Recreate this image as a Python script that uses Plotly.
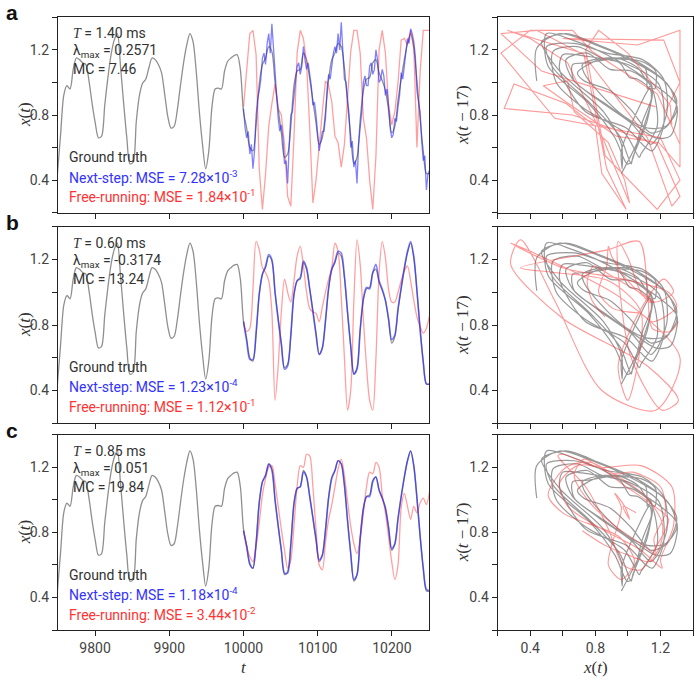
import plotly.graph_objects as go

W, H = 700, 686

# ---------------- sampling ----------------
T0 = 10000.0
DT = 4.25          # 17 / 4  -> the delay of 17 equals 4 samples
LAG = 4

t_gt = [T0 + DT * k for k in range(-59, 60)]
t_pred = [T0 + DT * k for k in range(0, 60)]
t_blue_a = [T0 + DT / 2 * j for j in range(0, 119)]

# ---------------- data ----------------
ground_truth = [
    0.44, 0.68, 0.92, 0.98, 0.96, 1.08, 1.15, 1.14, 1.12, 1.11,
    1.01, 0.87, 0.75, 0.66, 0.67, 0.86, 1.03, 1.17, 1.26, 1.30,
    1.10, 0.87, 0.66, 0.50, 0.51, 0.76, 0.92, 0.995, 1.02, 1.09,
    1.15, 1.14, 1.11, 1.06, 0.93, 0.79, 0.72, 0.73, 0.83, 0.98,
    1.12, 1.23, 1.30, 1.25, 1.07, 0.82, 0.62, 0.47, 0.58, 0.85,
    0.96, 0.965, 0.96, 1.07, 1.13, 1.15, 1.165, 1.17, 1.08,
    0.82, 0.72, 0.60, 0.58, 0.74, 0.99, 1.11, 1.15, 1.22, 1.19,
    1.00, 0.84, 0.69, 0.54, 0.56, 0.73, 0.98, 1.07, 1.08, 1.18,
    1.14, 1.02, 0.89, 0.75, 0.62, 0.66, 0.82, 1.02, 1.14, 1.18,
    1.24, 1.22, 1.09, 0.87, 0.67, 0.50, 0.54, 0.77, 0.95, 1.02,
    1.03, 1.12, 1.14, 1.06, 1.01, 0.95, 0.83, 0.69, 0.73, 0.89,
    1.02, 1.14, 1.24, 1.30, 1.21, 1.01, 0.78, 0.58, 0.44, 0.44,
]

next_step_a = [
    0.84, 0.72, 0.66, 0.70, 0.56, 0.62, 0.47, 0.58, 0.80, 0.90,
    0.95, 1.02, 1.15, 1.18, 1.11, 1.24, 1.30, 1.18, 1.36, 1.22,
    1.05, 0.96, 0.78, 0.70, 0.74, 0.66, 0.50, 0.52, 0.38, 0.62,
    0.80, 0.82, 0.93, 1.00, 1.10, 1.12, 1.05, 1.10, 1.22, 1.14,
    1.08, 1.12, 1.06, 0.98, 0.86, 0.88, 0.80, 0.66, 0.58, 0.64,
    0.70, 0.70, 0.78, 0.96, 1.05, 1.02, 1.10, 1.18, 1.22, 1.18,
    1.30, 1.20, 1.37, 1.20, 1.02, 1.00, 0.90, 0.80, 0.60, 0.64,
    0.48, 0.52, 0.38, 0.62, 0.72, 0.82, 1.00, 1.04, 0.98, 0.98,
    1.10, 1.12, 1.05, 1.08, 1.20, 1.14, 1.00, 1.02, 1.08, 1.04,
    0.92, 0.96, 0.86, 0.72, 0.66, 0.68, 0.78, 0.76, 0.85, 0.92,
    1.06, 1.02, 1.10, 1.17, 1.27, 1.24, 1.33, 1.30, 1.25, 1.16,
    0.95, 0.88, 0.82, 0.64, 0.52, 0.55, 0.34, 0.44, 0.46,
]

free_run_a = [
    0.85, 1.07, 1.30, 1.32, 1.17, 0.47, 0.22, 0.44, 0.73, 0.87,
    0.99, 0.84, 0.80, 0.62, 0.30, 0.24, 0.66, 1.18, 1.32, 1.27,
    1.12, 0.72, 0.26, 0.40, 0.63, 0.82, 1.01, 0.98, 0.88, 0.67,
    0.63, 0.48, 0.62, 0.93, 1.19, 1.32, 1.32, 1.18, 0.78, 0.66,
    0.40, 0.22, 0.55, 1.20, 1.32, 1.18, 0.86, 0.74, 0.82, 1.00,
    1.26, 1.27, 1.23, 1.32, 1.22, 0.60, 1.06, 1.32, 1.32, 1.32,
]

next_step_b = [
    0.82, 0.70, 0.59, 0.59, 0.76, 0.99, 1.11, 1.16, 1.23, 1.20,
    1.00, 0.83, 0.68, 0.53, 0.55, 0.74, 0.99, 1.07, 1.09, 1.19,
    1.15, 1.02, 0.88, 0.74, 0.62, 0.66, 0.83, 1.03, 1.14, 1.19,
    1.25, 1.24, 1.10, 0.88, 0.67, 0.50, 0.53, 0.77, 0.96, 1.03,
    1.02, 1.12, 1.17, 1.07, 1.02, 0.95, 0.84, 0.71, 0.74, 0.90,
    1.03, 1.15, 1.25, 1.31, 1.22, 1.01, 0.77, 0.57, 0.44, 0.44,
]

free_run_b = [
    0.82, 0.76, 0.78, 1.02, 1.31, 1.26, 1.15, 1.12, 1.07, 0.88,
    0.34, 0.55, 0.88, 1.08, 1.00, 0.94, 1.07, 1.22, 1.28, 1.16,
    1.00, 0.90, 0.88, 0.87, 0.82, 0.91, 1.00, 1.08, 1.15, 1.30,
    1.25, 0.97, 0.60, 0.28, 0.40, 0.95, 1.32, 1.17, 0.84, 0.55,
    0.34, 0.28, 0.60, 1.12, 1.31, 1.21, 1.02, 0.94, 0.94, 1.00,
    1.07, 1.13, 1.16, 1.07, 0.95, 0.85, 0.79, 0.75, 0.78, 0.86,
]

next_step_c = [
    0.81, 0.71, 0.61, 0.58, 0.73, 0.98, 1.11, 1.15, 1.22, 1.18,
    1.00, 0.84, 0.69, 0.55, 0.55, 0.72, 0.97, 1.07, 1.08, 1.17,
    1.14, 1.02, 0.89, 0.76, 0.63, 0.66, 0.81, 1.01, 1.13, 1.18,
    1.24, 1.22, 1.09, 0.87, 0.67, 0.51, 0.54, 0.76, 0.94, 1.02,
    1.02, 1.11, 1.14, 1.06, 1.01, 0.95, 0.83, 0.70, 0.73, 0.88,
    1.02, 1.14, 1.24, 1.30, 1.21, 1.01, 0.78, 0.58, 0.45, 0.44,
]

free_run_c = [
    0.81, 0.72, 0.65, 0.62, 0.72, 0.86, 1.03, 1.13, 1.20, 1.21,
    1.10, 0.96, 0.82, 0.69, 0.58, 0.63, 0.84, 1.08, 1.21, 1.20,
    1.28, 1.27, 1.08, 0.82, 0.60, 0.57, 0.74, 0.88, 0.97, 1.08,
    1.19, 1.25, 1.15, 0.99, 0.84, 0.73, 0.67, 0.76, 0.92, 1.08,
    1.17, 1.16, 1.23, 1.20, 1.03, 0.92, 0.77, 0.62, 0.51, 0.60,
    0.95, 1.04, 0.96, 0.88, 0.96, 0.92, 0.98, 1.01, 0.97, 1.05,
]

panel_letters = ["a", "b", "c"]
periods = ["1.40", "0.60", "0.85"]
lambdas = ["0.2571", "-0.3174", "0.051"]
mcs = ["7.46", "13.24", "19.84"]
mse_next = [("7.28", "-3"), ("1.23", "-4"), ("1.18", "-4")]
mse_free = [("1.84", "-1"), ("1.12", "-1"), ("3.44", "-2")]

x_ticks_time = [9800, 9900, 10000, 10100, 10200]
x_ticktext_time = ["9800", "9900", "10000", "10100", "10200"]
val_ticks = [0.2, 0.4, 0.6, 0.8, 1.0, 1.2, 1.4]
val_ticktext = ["", "0.4", "", "0.8", "", "1.2", ""]

# ---------------- styling ----------------
GRAY = "rgba(105,105,105,0.75)"
GRAY_PH = "rgba(85,85,85,0.6)"
BLUE = "rgba(25,25,255,0.55)"
RED = "rgba(255,45,45,0.45)"
RED_PH = "rgba(255,50,50,0.5)"
TXT = "#333333"
BLUE_TXT = "#3333ff"
RED_TXT = "#ff3333"
SERIF = "Liberation Serif"

LEFT_X = [58 / W, 429 / W]
RIGHT_X = [497.7 / W, 693 / W]
ROW_PX = [(17.3, 212.7), (226.7, 423.3), (434.7, 630.0)]

nexts = [next_step_a, next_step_b, next_step_c]
frees = [free_run_a, free_run_b, free_run_c]

fig = go.Figure()
layout = dict(
    width=W, height=H, margin=dict(l=0, r=0, t=0, b=0),
    paper_bgcolor="white", plot_bgcolor="white", showlegend=False,
    font=dict(family="Roboto", size=14, color=TXT),
)

axis_common = dict(
    showline=True, linecolor="#222", linewidth=1.2, mirror=True,
    ticks="outside", ticklen=5, tickwidth=1, tickcolor="#222",
    showgrid=False, zeroline=False,
    tickfont=dict(family="Roboto", size=14, color="#444"),
)

annotations = []


def ann(xp, yp, text, color=TXT, size=14, family="Roboto", xanchor="left", angle=0, bold=False):
    if bold:
        text = "<b>" + text + "</b>"
    annotations.append(dict(
        x=xp / W, y=1 - yp / H, xref="paper", yref="paper", text=text, showarrow=False,
        xanchor=xanchor, yanchor="middle", textangle=angle,
        font=dict(family=family, size=size, color=color),
    ))


for r in range(3):
    top, bot = ROW_PX[r]
    ydom = [1 - bot / H, 1 - top / H]
    il = 2 * r + 1
    ir = 2 * r + 2
    xl = "x" if il == 1 else f"x{il}"
    yl = "y" if il == 1 else f"y{il}"
    xr = f"x{ir}"
    yr = f"y{ir}"
    last = r == 2

    layout["xaxis" if il == 1 else f"xaxis{il}"] = dict(
        axis_common, domain=LEFT_X, anchor=yl, range=[9750, 10250],
        tickvals=x_ticks_time, ticktext=x_ticktext_time, showticklabels=last)
    layout["yaxis" if il == 1 else f"yaxis{il}"] = dict(
        axis_common, domain=ydom, anchor=xl, range=[0.2, 1.4],
        tickvals=val_ticks, ticktext=val_ticktext)
    layout[f"xaxis{ir}"] = dict(
        axis_common, domain=RIGHT_X, anchor=yr, range=[0.2, 1.4],
        tickvals=val_ticks, ticktext=val_ticktext, showticklabels=last)
    layout[f"yaxis{ir}"] = dict(
        axis_common, domain=ydom, anchor=xr, range=[0.2, 1.4],
        tickvals=val_ticks, ticktext=val_ticktext)

    # time series
    fig.add_trace(go.Scatter(x=t_gt, y=ground_truth, mode="lines", xaxis=xl, yaxis=yl,
                             line=dict(color=GRAY, width=1.3, shape="spline", smoothing=0.8)))
    fig.add_trace(go.Scatter(x=t_pred, y=frees[r], mode="lines", xaxis=xl, yaxis=yl,
                             line=dict(color=RED, width=1.3,
                                       shape="linear" if r == 0 else "spline", smoothing=0.8)))
    if r == 0:
        fig.add_trace(go.Scatter(x=t_blue_a, y=next_step_a, mode="lines", xaxis=xl, yaxis=yl,
                                 line=dict(color=BLUE, width=1.3)))
    else:
        fig.add_trace(go.Scatter(x=t_pred, y=nexts[r], mode="lines", xaxis=xl, yaxis=yl,
                                 line=dict(color=BLUE, width=1.6, shape="spline", smoothing=0.8)))

    # delay-embedding phase portraits: x(t) vs x(t-17)
    fig.add_trace(go.Scatter(x=ground_truth[LAG:], y=ground_truth[:-LAG], mode="lines",
                             xaxis=xr, yaxis=yr,
                             line=dict(color=GRAY_PH, width=1.2, shape="spline", smoothing=0.8)))
    fr = frees[r]
    fig.add_trace(go.Scatter(x=fr[LAG:], y=fr[:-LAG], mode="lines", xaxis=xr, yaxis=yr,
                             line=dict(color=RED_PH, width=1.1,
                                       shape="linear" if r == 0 else "spline", smoothing=0.8)))

    # texts
    ann(12, top - 4 if r else 13, panel_letters[r], color="#111", size=21,
        family="Liberation Sans", xanchor="center", bold=True)
    ann(71, top + 16,
        f"<span style='font-family:{SERIF}'><i>T</i></span> = {periods[r]} ms")
    ann(71, top + 34, f"λ<sub>max</sub> = {lambdas[r]}")
    ann(71, top + 52, f"MC = {mcs[r]}")
    ann(67, top + 140, "Ground truth")
    m, e = mse_next[r]
    ann(67, top + 159.5, f"Next-step: MSE = {m}×10<sup>{e}</sup>", color=BLUE_TXT)
    m, e = mse_free[r]
    ann(67, top + 179, f"Free-running: MSE = {m}×10<sup>{e}</sup>", color=RED_TXT)

    # axis titles
    ym = (top + bot) / 2
    ann(24, ym, "<i>x</i>(<i>t</i>)", family=SERIF, size=17, xanchor="center", angle=-90)
    ann(462, ym, "<i>x</i>(<i>t</i> − 17)", family=SERIF, size=17, xanchor="center", angle=-90)

ann(244, 667, "<i>t</i>", family=SERIF, size=17, xanchor="center")
ann(595, 667, "<i>x</i>(<i>t</i>)", family=SERIF, size=17, xanchor="center")

layout["annotations"] = annotations
fig.update_layout(**layout)
fig.write_html("out.html")
